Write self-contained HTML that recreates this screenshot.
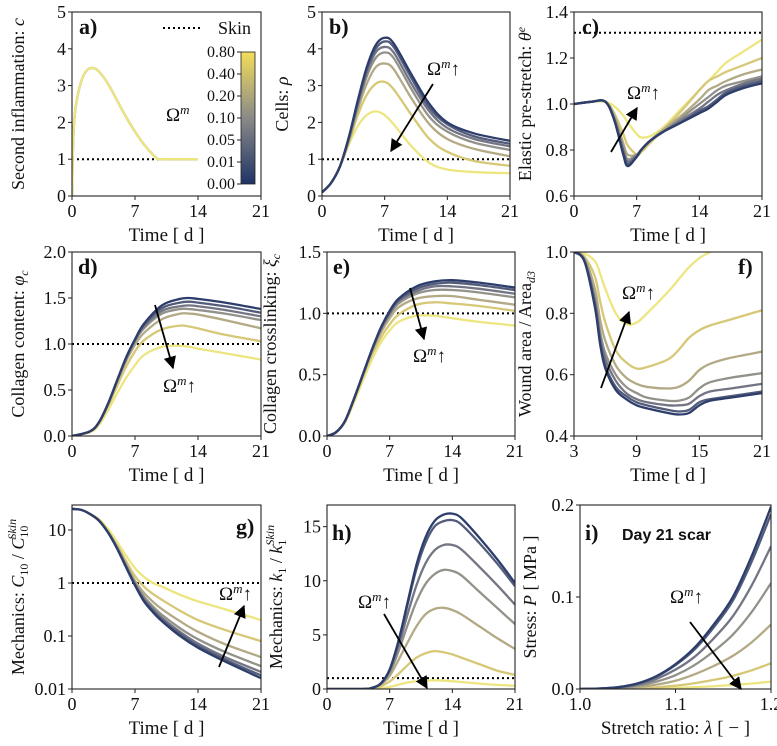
<!DOCTYPE html>
<html><head><meta charset="utf-8"><style>
html,body{margin:0;padding:0;background:#fff}
svg{display:block;font-family:"Liberation Serif","DejaVu Serif",serif}
</style></head><body>
<svg id="fig" width="777" height="746" viewBox="0 0 777 746" xmlns="http://www.w3.org/2000/svg">
<defs>
<marker id="ah" viewBox="0 0 10 10" refX="9" refY="5" markerWidth="7" markerHeight="7" orient="auto"><path d="M0,0 L10,5 L0,10 z" fill="#000"/></marker>
<linearGradient id="cbg" x1="0" y1="1" x2="0" y2="0"><stop offset="0" stop-color="#1f3466"/><stop offset="0.5" stop-color="#8a8a88"/><stop offset="1" stop-color="#f2dd5a"/></linearGradient>
</defs>
</svg>
<script>
const colors=["#ede680","#d6c877","#b3aa85","#92918a","#737584","#525c7a","#2d3d6c"]; // yellow -> dark (draw order)
// ---- panel a
const tA=[0,0.15,0.4,1,1.6,2.3,3,4,5,6,7,8,9,9.6,10,12,14];
const cA=[0,1.6,2.4,3.1,3.4,3.48,3.38,3.05,2.6,2.15,1.75,1.4,1.12,1.0,1.0,1.0,1.0];
// ---- panel b
const tB=[0,1,2,3,4,5,6,7,8,10,12,14,17,21];
const rhoB=[
[0.1,0.35,0.8,1.4,1.9,2.2,2.3,2.2,1.95,1.35,0.9,0.72,0.65,0.62],
[0.1,0.35,0.8,1.45,2.2,2.75,3.05,3.1,2.9,2.2,1.55,1.2,0.95,0.82],
[0.1,0.35,0.8,1.5,2.35,3.05,3.5,3.6,3.45,2.65,1.95,1.55,1.28,1.08],
[0.1,0.35,0.8,1.55,2.45,3.25,3.75,3.9,3.75,2.9,2.15,1.75,1.45,1.25],
[0.1,0.35,0.8,1.55,2.5,3.35,3.9,4.05,3.9,3.05,2.3,1.85,1.55,1.35],
[0.1,0.35,0.8,1.6,2.55,3.45,4.0,4.2,4.05,3.2,2.4,1.95,1.62,1.42],
[0.1,0.35,0.8,1.6,2.6,3.5,4.1,4.3,4.15,3.3,2.5,2.0,1.7,1.5]];
// ---- panel c
const tC=[0,2,3.5,4.5,5.5,6,7,7.5,8.5,10,12,14,15,16,17,19,21];
const thC=[
[1.0,1.01,1.01,0.99,0.95,0.92,0.87,0.855,0.86,0.9,0.98,1.06,1.10,1.14,1.18,1.23,1.28],
[1.0,1.01,1.01,0.96,0.87,0.82,0.78,0.79,0.83,0.89,0.97,1.06,1.10,1.12,1.14,1.17,1.20],
[1.0,1.01,1.01,0.95,0.83,0.78,0.78,0.80,0.84,0.89,0.95,1.02,1.06,1.08,1.10,1.13,1.15],
[1.0,1.01,1.01,0.94,0.81,0.76,0.78,0.80,0.84,0.88,0.94,1.00,1.03,1.06,1.08,1.10,1.12],
[1.0,1.01,1.01,0.935,0.8,0.75,0.775,0.80,0.84,0.88,0.93,0.98,1.01,1.04,1.06,1.09,1.11],
[1.0,1.01,1.01,0.93,0.79,0.74,0.77,0.80,0.84,0.88,0.92,0.97,0.99,1.02,1.05,1.08,1.10],
[1.0,1.01,1.01,0.93,0.78,0.73,0.77,0.80,0.84,0.88,0.92,0.96,0.98,1.01,1.04,1.07,1.09]];
// ---- panel d
const tD=[0,2,3,4,5,6,7,8,10,12,13,14,17,21];
const phiD=[
[0,0.04,0.12,0.28,0.46,0.63,0.77,0.88,0.97,0.98,0.97,0.95,0.9,0.83],
[0,0.05,0.14,0.32,0.54,0.75,0.92,1.04,1.16,1.2,1.19,1.17,1.1,1.03],
[0,0.05,0.15,0.34,0.58,0.81,0.99,1.12,1.27,1.33,1.33,1.32,1.26,1.17],
[0,0.05,0.15,0.35,0.6,0.83,1.03,1.17,1.33,1.38,1.38,1.37,1.33,1.26],
[0,0.05,0.15,0.35,0.6,0.84,1.04,1.19,1.36,1.41,1.42,1.41,1.37,1.3],
[0,0.05,0.15,0.35,0.6,0.85,1.05,1.21,1.39,1.45,1.46,1.45,1.41,1.34],
[0,0.05,0.15,0.35,0.6,0.85,1.05,1.22,1.42,1.49,1.5,1.49,1.45,1.38]];
// ---- panel e
const tE=[0,1,2,3,4,5,6,7,8,10,12,14,17,21];
const xiE=[
[0,0.03,0.11,0.27,0.45,0.62,0.76,0.86,0.93,0.98,0.98,0.96,0.93,0.9],
[0,0.03,0.12,0.29,0.48,0.66,0.8,0.91,0.99,1.07,1.09,1.08,1.06,1.02],
[0,0.03,0.12,0.3,0.49,0.68,0.84,0.96,1.05,1.12,1.14,1.14,1.11,1.07],
[0,0.03,0.12,0.3,0.5,0.69,0.86,0.99,1.08,1.16,1.19,1.19,1.17,1.13],
[0,0.03,0.12,0.3,0.5,0.7,0.87,1.0,1.1,1.18,1.22,1.22,1.2,1.16],
[0,0.03,0.12,0.3,0.5,0.7,0.88,1.01,1.11,1.2,1.24,1.25,1.23,1.19],
[0,0.03,0.12,0.3,0.5,0.7,0.88,1.02,1.12,1.22,1.26,1.27,1.25,1.21]];
// ---- panel f
const tF=[3,4,5,5.5,6,7,8,9,10,12,13,14,15,16,18,21];
const areaF=[
[1.0,0.995,0.97,0.93,0.88,0.8,0.765,0.77,0.8,0.87,0.91,0.95,0.98,1.0,1.04,1.1],
[1.0,0.985,0.92,0.84,0.77,0.68,0.64,0.62,0.625,0.65,0.68,0.72,0.745,0.76,0.78,0.81],
[1.0,0.98,0.88,0.78,0.71,0.63,0.59,0.57,0.56,0.555,0.56,0.58,0.615,0.635,0.655,0.675],
[1.0,0.975,0.85,0.74,0.67,0.6,0.56,0.54,0.525,0.515,0.515,0.525,0.555,0.575,0.59,0.605],
[1.0,0.97,0.84,0.72,0.65,0.58,0.54,0.52,0.51,0.5,0.5,0.505,0.53,0.545,0.555,0.57],
[1.0,0.97,0.83,0.71,0.63,0.56,0.53,0.51,0.5,0.485,0.48,0.485,0.51,0.52,0.53,0.545],
[1.0,0.97,0.82,0.7,0.62,0.55,0.52,0.5,0.49,0.475,0.47,0.475,0.5,0.515,0.525,0.54]];
// ---- panel g (log)
const tG=[0,1,2,3,4,5,6,7,8,9,10,12,14,17,21];
const c10G=[
[25,24,20,16,10.5,6,3.3,1.9,1.3,1.0,0.85,0.6,0.45,0.32,0.2],
[25,24,20,15.5,9.5,5.2,2.6,1.35,0.85,0.62,0.48,0.3,0.2,0.13,0.08],
[25,24,20,15,9.2,4.9,2.3,1.1,0.65,0.44,0.32,0.19,0.12,0.07,0.04],
[25,24,20,15,9,4.7,2.15,1.0,0.55,0.36,0.25,0.14,0.087,0.05,0.027],
[25,24,20,15,9,4.6,2.1,0.95,0.5,0.32,0.22,0.12,0.072,0.04,0.021],
[25,24,20,15,9,4.5,2,0.92,0.47,0.3,0.2,0.11,0.065,0.036,0.018],
[25,24,20,15,9,4.5,2,0.9,0.45,0.28,0.19,0.1,0.06,0.033,0.016]];
// ---- panel h
const tH=[0,4,5,6,7,8,9,10,11,12,13,14,15,17,19,21];
const k1H=[
[0,0,0.02,0.08,0.2,0.4,0.6,0.72,0.78,0.8,0.78,0.72,0.65,0.5,0.38,0.3],
[0,0,0.05,0.25,0.7,1.4,2.2,2.9,3.3,3.5,3.4,3.2,2.9,2.3,1.7,1.3],
[0,0,0.1,0.4,1.2,2.7,4.3,5.8,6.9,7.4,7.5,7.3,6.9,5.8,4.7,3.7],
[0,0,0.1,0.45,1.5,3.5,5.9,8.1,9.7,10.6,11,10.9,10.5,9,7.5,6],
[0,0,0.1,0.5,1.7,4.0,6.9,9.6,11.6,12.8,13.3,13.3,12.9,11.3,9.6,7.8],
[0,0,0.1,0.5,1.8,4.4,7.8,11.1,13.5,15,15.5,15.6,15.2,13.5,11.6,9.5],
[0,0,0.1,0.5,1.8,4.5,8,11.5,14,15.5,16.1,16.2,15.8,14,12,9.8]];
// ---- panel i
const lamI=[1.0,1.02,1.04,1.06,1.08,1.1,1.12,1.14,1.16,1.18,1.2];
const stressI=[
[0,0,0.0001,0.0003,0.0006,0.0012,0.002,0.003,0.0044,0.006,0.008],
[0,0.0001,0.0003,0.0008,0.0019,0.0036,0.0063,0.0099,0.0143,0.0204,0.028],
[0,0.0002,0.0007,0.002,0.0048,0.009,0.016,0.025,0.036,0.051,0.07],
[0,0.0003,0.0012,0.0035,0.008,0.015,0.026,0.041,0.059,0.084,0.115],
[0,0.0004,0.0016,0.0047,0.011,0.021,0.035,0.055,0.079,0.113,0.155],
[0,0.0005,0.002,0.0058,0.0135,0.026,0.043,0.067,0.096,0.139,0.19],
[0,0.0005,0.002,0.006,0.014,0.027,0.045,0.07,0.1,0.145,0.198]];
const cbTicks=["0.00","0.01","0.05","0.10","0.20","0.40","0.80"];

const NS="http://www.w3.org/2000/svg";
const svg=document.getElementById('fig');
function mk(tag,attrs,parent){const e=document.createElementNS(NS,tag);for(const k in attrs)e.setAttribute(k,attrs[k]);(parent||svg).appendChild(e);return e;}
function txt(s,x,y,size,anchor,parent,extra){const e=mk('text',Object.assign({x:x,y:y,'font-size':size,'text-anchor':anchor||'middle',fill:'#111'},extra||{}),parent);e.innerHTML=s;return e;}
function smooth(pts){let d='M'+pts[0][0].toFixed(2)+','+pts[0][1].toFixed(2);
 for(let i=0;i<pts.length-1;i++){const p0=pts[Math.max(0,i-1)],p1=pts[i],p2=pts[i+1],p3=pts[Math.min(pts.length-1,i+2)];
  const c1=[p1[0]+(p2[0]-p0[0])/6,p1[1]+(p2[1]-p0[1])/6],c2=[p2[0]-(p3[0]-p1[0])/6,p2[1]-(p3[1]-p1[1])/6];
  d+='C'+c1[0].toFixed(2)+','+c1[1].toFixed(2)+' '+c2[0].toFixed(2)+','+c2[1].toFixed(2)+' '+p2[0].toFixed(2)+','+p2[1].toFixed(2);}
 return d;}
let clipN=0;
function panel(o){
 const g=mk('g',{});
 
 
 const L=o.box[0],T=o.box[1],R=o.box[2],B=o.box[3];
 const sx=v=>L+(v-o.xr[0])/(o.xr[1]-o.xr[0])*(R-L);
 const sy=o.log?(v=>B-(Math.log10(v)-Math.log10(o.yr[0]))/(Math.log10(o.yr[1])-Math.log10(o.yr[0]))*(B-T)):(v=>B-(v-o.yr[0])/(o.yr[1]-o.yr[0])*(B-T));
 const id='cp'+(clipN++);
 const cp=mk('clipPath',{id:id},g);mk('rect',{x:L,y:T,width:R-L,height:B-T},cp);
 const pg=mk('g',{'clip-path':'url(#'+id+')'},g);
 if(o.skin!==undefined){const x2=o.skinEnd!==undefined?sx(o.skinEnd):R;
  const l=mk('line',{x1:L,x2:x2,y1:sy(o.skin),y2:sy(o.skin),stroke:'#000','stroke-width':2,'stroke-dasharray':'2,3'},pg);
  
  }
 o.series.forEach((ys,si)=>{const pts=o.x.map((xv,i)=>[sx(xv),sy(ys[i])]);
  const p=mk('path',{d:smooth(pts),fill:'none',stroke:o.cols?o.cols[si]:colors[si],'stroke-width':2.3,'stroke-linejoin':'round'},pg);
  
  });
 const fr=mk('rect',{x:L,y:T,width:R-L,height:B-T,fill:'none',stroke:'#222','stroke-width':1.1},g);
 
 
 o.xt.forEach((v,i)=>{const x=sx(v);mk('line',{x1:x,x2:x,y1:B,y2:B+4,stroke:'#222'},g);
  const t=txt(o.xl[i],x,B+21,18,'middle',g);});
 o.yt.forEach((v,i)=>{const y=sy(v);mk('line',{x1:L-4,x2:L,y1:y,y2:y,stroke:'#222'},g);
  const t=txt(o.yl[i],L-6,y+6,18,'end',g);});
 const xa=txt(o.xlab,(L+R)/2,B+45,19,'middle',g);
 const ya=txt(o.ylab,0,0,18,'middle',g,{transform:'translate('+o.ylx+','+(T+B)/2+') rotate(-90)'});
 const pl=txt(o.lab,o.labxy[0],o.labxy[1],22,'start',g,{'font-weight':'bold'});
 return {sx,sy,g};
}
const T7=[0,7,14,21],T7L=["0","7","14","21"],TL="Time [ d ]";
const OM='Ω<tspan dy="-7" font-size="13" font-style="italic">m</tspan><tspan dy="7">&#x2191;</tspan>';
function omega(x,y){const t=txt(OM,x,y,19,'start');}
function arrow(x1,y1,x2,y2){const a=mk('line',{x1,y1,x2,y2,stroke:'#000','stroke-width':1.8,'marker-end':'url(#ah)'});}

const aCols=["#6a6f80","#ede680"];
panel({name:'panel-a-inflammation',box:[72,12,261,196],xr:[0,21],yr:[0,5],x:tA,series:[cA,cA],cols:aCols,skin:1,skinEnd:9.6,
 xt:T7,xl:T7L,yt:[0,1,2,3,4,5],yl:["0","1","2","3","4","5"],xlab:TL,ylab:'Second inflammation: <tspan font-style="italic">c</tspan>',ylx:24,lab:'a)',labxy:[79,34]});
panel({name:'panel-b-cells',box:[322,12,510,196],xr:[0,21],yr:[0,5],x:tB,series:rhoB,skin:1,
 xt:T7,xl:T7L,yt:[0,1,2,3,4,5],yl:["0","1","2","3","4","5"],xlab:TL,ylab:'Cells: <tspan font-style="italic">ρ</tspan>',ylx:288,lab:'b)',labxy:[329,34]});
panel({name:'panel-c-prestretch',box:[574,12,762,196],xr:[0,21],yr:[0.6,1.4],x:tC,series:thC,skin:1.31,
 xt:T7,xl:T7L,yt:[0.6,0.8,1.0,1.2,1.4],yl:["0.6","0.8","1.0","1.2","1.4"],xlab:TL,ylab:'Elastic pre-stretch: <tspan font-style="italic">θ<tspan dy="-6" font-size="12">e</tspan></tspan>',ylx:531,lab:'c)',labxy:[582,34]});
panel({name:'panel-d-collagen',box:[72,252,261,436],xr:[0,21],yr:[0,2],x:tD,series:phiD,skin:1,
 xt:T7,xl:T7L,yt:[0,0.5,1,1.5,2],yl:["0.0","0.5","1.0","1.5","2.0"],xlab:TL,ylab:'Collagen content: <tspan font-style="italic">φ<tspan dy="4" font-size="12">c</tspan></tspan>',ylx:24,lab:'d)',labxy:[78,274]});
panel({name:'panel-e-crosslinking',box:[327,252,515,436],xr:[0,21],yr:[0,1.5],x:tE,series:xiE,skin:1,
 xt:T7,xl:T7L,yt:[0,0.5,1,1.5],yl:["0.0","0.5","1.0","1.5"],xlab:TL,ylab:'Collagen crosslinking: <tspan font-style="italic">ξ<tspan dy="4" font-size="12">c</tspan></tspan>',ylx:276,lab:'e)',labxy:[333,274]});
panel({name:'panel-f-wound-area',box:[574,252,762,436],xr:[3,21],yr:[0.4,1.0],x:tF,series:areaF,
 xt:[3,9,15,21],xl:["3","9","15","21"],yt:[0.4,0.6,0.8,1.0],yl:["0.4","0.6","0.8","1.0"],xlab:TL,ylab:'Wound area / Area<tspan dy="4" font-size="12" font-style="italic">d3</tspan>',ylx:531,lab:'f)',labxy:[738,274]});
panel({name:'panel-g-c10',box:[72,505,261,689],xr:[0,21],yr:[0.01,29.6],log:true,x:tG,series:c10G,skin:1,
 xt:T7,xl:T7L,yt:[0.01,0.1,1,10],yl:["0.01","0.1","1","10"],xlab:TL,ylab:'Mechanics: <tspan font-style="italic">C</tspan><tspan dy="4" font-size="12">10</tspan><tspan dy="-4"> / </tspan><tspan font-style="italic">C</tspan><tspan dy="4" font-size="12">10</tspan><tspan dy="-12" dx="-14" font-size="12" font-style="italic">Skin</tspan>',ylx:24,lab:'g)',labxy:[236,534]});
panel({name:'panel-h-k1',box:[327,505,515,689],xr:[0,21],yr:[0,17],x:tH,series:k1H,skin:1,
 xt:T7,xl:T7L,yt:[0,5,10,15],yl:["0","5","10","15"],xlab:TL,ylab:'Mechanics: <tspan font-style="italic">k</tspan><tspan dy="4" font-size="12">1</tspan><tspan dy="-4"> / </tspan><tspan font-style="italic">k</tspan><tspan dy="4" font-size="12">1</tspan><tspan dy="-12" dx="-6" font-size="12" font-style="italic">Skin</tspan>',ylx:282,lab:'h)',labxy:[332,540]});
panel({name:'panel-i-stress',box:[580,505,771,689],xr:[1.0,1.2],yr:[0,0.2],x:lamI,series:stressI,
 xt:[1.0,1.1,1.2],xl:["1.0","1.1","1.2"],yt:[0,0.1,0.2],yl:["0.0","0.1","0.2"],xlab:'Stretch ratio: <tspan font-style="italic">λ</tspan> [ − ]',ylab:'Stress: <tspan font-style="italic">P</tspan> [ MPa ]',ylx:536,lab:'i)',labxy:[585,540]});
const day=txt('Day 21 scar',622,540,16,'start',null,{'font-weight':'bold','font-family':'Liberation Sans, sans-serif'});



// legend + colorbar in panel a
const lg=mk('line',{x1:163,x2:202,y1:28,y2:28,stroke:'#000','stroke-width':2,'stroke-dasharray':'2,3'});


const lt=txt('Skin',218,34,18,'start');


const cb=mk('rect',{x:241,y:52,width:14,height:132,fill:'url(#cbg)',stroke:'#222','stroke-width':0.8});


cbTicks.forEach((s,i)=>{const y=184-i*132/6;mk('line',{x1:237,x2:241,y1:y,y2:y,stroke:'#222'});
 const t=txt(s,235,y+5,16,'end');});
const cbl=txt('Ω<tspan dy="-7" font-size="13" font-style="italic">m</tspan>',166,121,19,'start');



// annotations
omega(427,75);arrow(433,84,391,151);
omega(627,99);arrow(611,152,637,108);
omega(163,392);arrow(155,305,173,368);
omega(413,362);arrow(410,288,424,339);
omega(622,299);arrow(601,388,629,312);
omega(219,600);arrow(219,667,244,606);
omega(358,608);arrow(384,614,427,688);
omega(670,603);arrow(690,622,741,689);
</script>
</body></html>
